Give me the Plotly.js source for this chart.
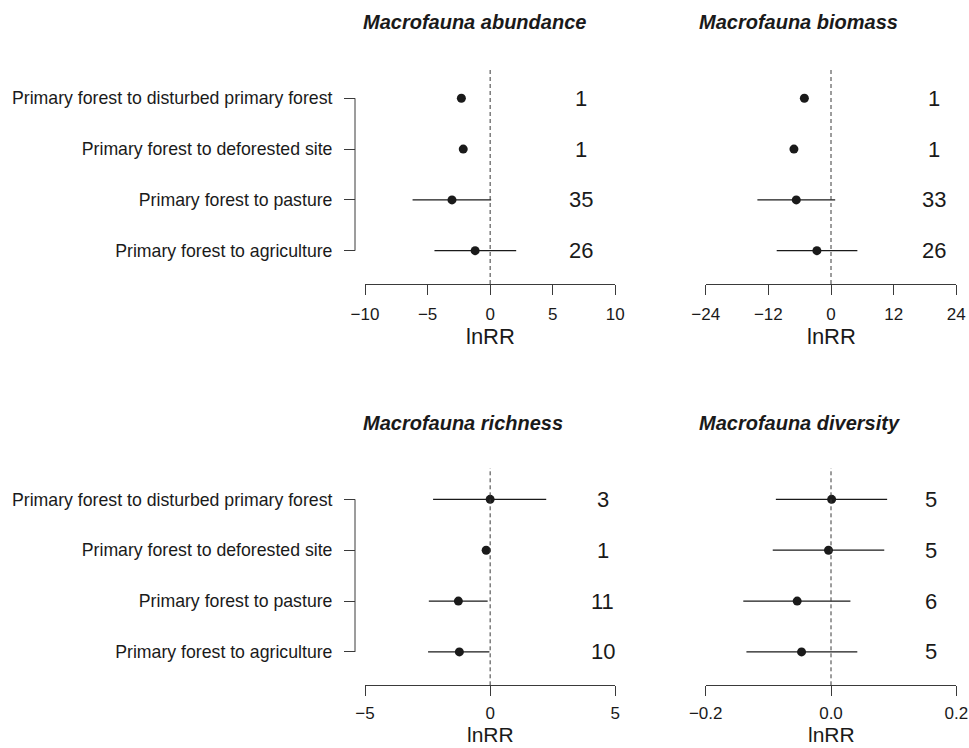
<!DOCTYPE html>
<html>
<head>
<meta charset="utf-8">
<script src="https://cdn.plot.ly/plotly-3.0.1.min.js"></script>
<style>html,body{margin:0;padding:0;background:#fff;}#chart{width:969px;height:748px;}</style>
</head>
<body>
<div id="chart"></div>
<script>
// ---- data ----
var categories = [
  "Primary forest to disturbed primary forest",
  "Primary forest to deforested site",
  "Primary forest to pasture",
  "Primary forest to agriculture"
];
var panelTitles = ["Macrofauna abundance", "Macrofauna biomass", "Macrofauna richness", "Macrofauna diversity"];
var xTitle = "lnRR";

var abundanceEst = [-2.3, -2.15, -3.05, -1.2];
var abundanceLo  = [null, null, -6.2, -4.45];
var abundanceHi  = [null, null, 0.08, 2.08];
var abundanceN   = [1, 1, 35, 26];

var biomassEst = [-5.1, -7.1, -6.65, -2.7];
var biomassLo  = [null, null, -14.1, -10.4];
var biomassHi  = [null, null, 0.8, 5.05];
var biomassN   = [1, 1, 33, 26];

var richnessEst = [0.0, -0.16, -1.27, -1.23];
var richnessLo  = [-2.28, null, -2.45, -2.48];
var richnessHi  = [2.24, null, -0.1, -0.03];
var richnessN   = [3, 1, 11, 10];

var diversityEst = [0.001, -0.004, -0.054, -0.047];
var diversityLo  = [-0.088, -0.093, -0.14, -0.135];
var diversityHi  = [0.0896, 0.085, 0.031, 0.042];
var diversityN   = [5, 5, 6, 5];

var abundanceTicks = [-10, -5, 0, 5, 10];
var biomassTicks   = [-24, -12, 0, 12, 24];
var richnessTicks  = [-5, 0, 5];
var diversityTicks = [-0.2, 0.0, 0.2];
var diversityTickText = ["\u22120.2", "0.0", "0.2"];

// ---- layout helpers ----
var W = 969, H = 748;
var FONT = "Liberation Sans, Arial, Helvetica, sans-serif";
var INK = "#1a1a1a", AXC = "#3a3a3a";
function px(x) { return x / W; }
function py(y) { return 1 - y / H; }

var rowY = categories.map(function (c, i) { return categories.length - i; });

var panels = [
  {est: abundanceEst, lo: abundanceLo, hi: abundanceHi, n: abundanceN, ticks: abundanceTicks, ticktext: null,
   range: [-10, 10], xd: [365, 615.3], yd: [67, 284], countX: 581, titleX: 361, titleY: 22, leftAxis: true,
   labOff: 52, labSize: 22, tickOff: 5},
  {est: biomassEst, lo: biomassLo, hi: biomassHi, n: biomassN, ticks: biomassTicks, ticktext: null,
   range: [-24, 24], xd: [705.7, 956.3], yd: [67, 284], countX: 933.5, titleX: 697, titleY: 22, leftAxis: false,
   labOff: 52, labSize: 22, tickOff: 5},
  {est: richnessEst, lo: richnessLo, hi: richnessHi, n: richnessN, ticks: richnessTicks, ticktext: null,
   range: [-5, 5], xd: [365, 615.3], yd: [468, 685.3], countX: 602.5, titleX: 361, titleY: 423, leftAxis: true,
   labOff: 49, labSize: 21, tickOff: 2},
  {est: diversityEst, lo: diversityLo, hi: diversityHi, n: diversityN, ticks: diversityTicks, ticktext: diversityTickText,
   range: [-0.2, 0.2], xd: [705.7, 956.3], yd: [468, 685.3], countX: 931, titleX: 697, titleY: 423, leftAxis: false,
   labOff: 49, labSize: 21, tickOff: 2}
];

var traces = [];
var layout = {
  width: W, height: H,
  margin: {l: 0, r: 0, t: 0, b: 0},
  paper_bgcolor: "#fff", plot_bgcolor: "#fff",
  showlegend: false,
  font: {family: FONT, color: INK, size: 17},
  shapes: [], annotations: []
};

panels.forEach(function (p, k) {
  var sfx = k === 0 ? "" : String(k + 1);
  var xa = "x" + sfx, ya = "y" + sfx;
  var plus = p.est.map(function (e, i) { return p.hi[i] == null ? null : p.hi[i] - e; });
  var minus = p.est.map(function (e, i) { return p.lo[i] == null ? null : e - p.lo[i]; });
  traces.push({
    type: "scatter", mode: "markers", x: p.est, y: rowY, xaxis: xa, yaxis: ya,
    marker: {color: INK, size: 9},
    error_x: {type: "data", symmetric: false, array: plus, arrayminus: minus,
              color: INK, thickness: 1.2, width: 0},
    cliponaxis: false, hoverinfo: "x+y"
  });

  layout["xaxis" + sfx] = {
    domain: [px(p.xd[0]), px(p.xd[1])], range: p.range, anchor: ya,
    showgrid: false, zeroline: false, showline: true, linecolor: AXC, linewidth: 1,
    ticks: "outside", ticklen: 10, tickcolor: AXC, tickwidth: 1,
    tickvals: p.ticks, ticktext: p.ticktext || undefined,
    tickfont: {size: 17, color: INK, family: FONT},
    ticklabelstandoff: p.tickOff,
    automargin: false, fixedrange: true
  };
  var yax = {
    domain: [py(p.yd[1]), py(p.yd[0])], range: [0.344, 4.616],
    showgrid: false, zeroline: false, showline: false, automargin: false, fixedrange: true
  };
  if (p.leftAxis) {
    yax.anchor = "free";
    yax.position = px(355);
    yax.ticks = "outside"; yax.ticklen = 11; yax.tickcolor = AXC; yax.tickwidth = 1;
    yax.tickvals = rowY; yax.ticktext = categories;
    yax.tickfont = {size: 17.7, color: INK, family: FONT};
    yax.ticklabelstandoff = 8;
    layout.shapes.push({type: "line", xref: "paper", yref: ya, x0: px(355), x1: px(355),
      y0: rowY[rowY.length - 1], y1: rowY[0], line: {color: AXC, width: 1}});
  } else {
    yax.anchor = xa;
    yax.showticklabels = false; yax.ticks = "";
  }
  layout["yaxis" + sfx] = yax;

  // dashed reference line at zero
  layout.shapes.push({type: "line", xref: xa, yref: ya + " domain", x0: 0, x1: 0, y0: 0, y1: 1,
    line: {color: AXC, width: 1, dash: "4px,3px"}});

  // sample sizes
  p.n.forEach(function (n, i) {
    layout.annotations.push({xref: "paper", yref: ya, x: px(p.countX), y: rowY[i],
      text: String(n), showarrow: false, xanchor: "center", yanchor: "middle",
      font: {size: 22, color: INK, family: FONT}});
  });

  // x-axis title (lnRR)
  layout.annotations.push({xref: xa + " domain", yref: "paper", x: 0.5, y: py(p.yd[1] + p.labOff),
    text: xTitle, showarrow: false, xanchor: "center", yanchor: "middle", borderpad: 0,
    font: {size: p.labSize, color: INK, family: FONT}});

  // panel title
  layout.annotations.push({xref: "paper", yref: "paper", x: px(p.titleX), y: py(p.titleY),
    text: "<b><i>" + panelTitles[k] + "</i></b>", showarrow: false, xanchor: "left", yanchor: "middle",
    font: {size: 20, color: INK, family: FONT}});
});

Plotly.newPlot("chart", traces, layout, {displayModeBar: false, staticPlot: true});
</script>
</body>
</html>
